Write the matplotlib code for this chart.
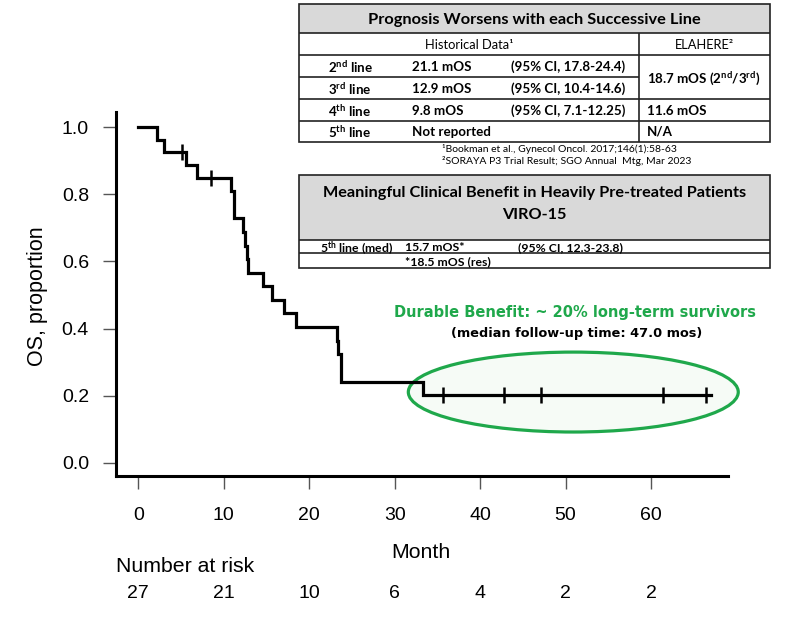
import matplotlib
matplotlib.use("Agg")
import matplotlib.pyplot as plt
from matplotlib.patches import Ellipse, Rectangle
from matplotlib.transforms import blended_transform_factory

# ---------------- data ----------------
step_times = [0, 2.2, 3.0, 5.6, 6.9, 10.9, 11.2, 12.3, 12.5, 12.7, 12.9,
              14.6, 15.7, 17.0, 18.5, 23.2, 23.4, 23.7, 33.3, 67.0]
step_surv = [1.0, 0.963, 0.926, 0.887, 0.849, 0.809, 0.728, 0.688, 0.647,
             0.607, 0.566, 0.526, 0.485, 0.445, 0.404, 0.364, 0.323, 0.242,
             0.202, 0.202]
censor_times = [5.1, 8.5, 35.7, 42.8, 47.1, 61.4, 66.4]
censor_surv = [0.926, 0.849, 0.202, 0.202, 0.202, 0.202, 0.202]

x_ticks = [0, 10, 20, 30, 40, 50, 60]
y_ticks = [0.0, 0.2, 0.4, 0.6, 0.8, 1.0]
at_risk = [27, 21, 10, 6, 4, 2, 2]

t1_title = "Prognosis Worsens with each Successive Line"
t1_hist_head = "Historical Data\u00b9"
t1_ela_head = "ELAHERE\u00b2"
t1_lines = ["2$^{nd}$ line", "3$^{rd}$ line", "4$^{th}$ line", "5$^{th}$ line"]
t1_mos = ["21.1 mOS", "12.9 mOS", "9.8 mOS", "Not reported"]
t1_ci = ["(95% CI, 17.8-24.4)", "(95% CI, 10.4-14.6)", "(95% CI, 7.1-12.25)", ""]
t1_ela = ["18.7 mOS (2$^{nd}$/3$^{rd}$)", "11.6 mOS", "N/A"]
t1_notes = ["\u00b9Bookman et al., Gynecol Oncol. 2017;146(1):58-63",
            "\u00b2SORAYA P3 Trial Result; SGO Annual  Mtg, Mar 2023"]

t2_title = ["Meaningful Clinical Benefit in Heavily Pre-treated Patients", "VIRO-15"]
t2_row1 = ["5$^{th}$ line (med)", "15.7 mOS*", "(95% CI, 12.3-23.8)"]
t2_row2 = "*18.5 mOS (res)"

green_text = "Durable Benefit: ~ 20% long-term survivors"
followup_text = "(median follow-up time: 47.0 mos)"

# ---------------- style ----------------
plt.rcParams['font.family'] = ['Liberation Sans', 'DejaVu Sans']
plt.rcParams['mathtext.default'] = 'regular'

W, H = 800, 618
fig = plt.figure(figsize=(8, 6.18), dpi=100)
ax = fig.add_axes([116 / W, 1 - 476 / H, (728 - 116) / W, (476 - 112) / H])

ax.step(step_times, step_surv, where='post', color='black', lw=2.3,
        zorder=3, solid_joinstyle='miter')
ax.plot(censor_times, censor_surv, ls='none', marker='|', ms=12, mew=1.8,
        color='black', zorder=4)

GREEN = '#1fa84b'
ax.add_patch(Ellipse((50.9, 0.211), 38.6, 0.238, fc='#f6fbf6', ec=GREEN,
                     lw=2.3, zorder=1, clip_on=False))

ax.set_xlim(-2.6, 69)
ax.set_ylim(-0.039, 1.045)
for s in ['top', 'right']:
    ax.spines[s].set_visible(False)
for s in ['left', 'bottom']:
    ax.spines[s].set_linewidth(2.2)
ax.set_xticks(x_ticks)
ax.set_yticks(y_ticks)
ax.set_yticklabels([f"{v:.1f}" for v in y_ticks])
ax.tick_params(axis='x', length=9.5, width=1.0, color='#555555', pad=13,
               labelsize=14)
ax.tick_params(axis='y', length=9.5, width=1.0, color='#555555', pad=10,
               labelsize=14)

fig.text(37 / W, 1 - 296 / H, "OS, proportion", rotation=90, ha='center',
         va='center', fontsize=15.5)
fig.text(421 / W, 1 - 553 / H, "Month", ha='center', va='center', fontsize=15.3)
fig.text(185 / W, 1 - 567 / H, "Number at risk", ha='center', va='center',
         fontsize=15.3)
tr = blended_transform_factory(ax.transData, fig.transFigure)
for t, n in zip(x_ticks, at_risk):
    ax.text(t, 1 - 593 / H, str(n), transform=tr, ha='center', va='center',
            fontsize=14)

# ---------------- overlay (tables & annotations) ----------------
ov = fig.add_axes([0, 0, 1, 1])
ov.set_xlim(0, W)
ov.set_ylim(H, 0)
ov.axis('off')

TF = 'Lato'
LC = '#222222'
LW = 1.2


def hline(x0, x1, y):
    ov.plot([x0, x1], [y, y], color=LC, lw=LW, solid_capstyle='butt')


def vline(x, y0, y1):
    ov.plot([x, x], [y0, y1], color=LC, lw=LW, solid_capstyle='butt')


def btext(x, yc, s, size, **kw):
    # place text by its baseline so superscripts do not shift it
    y = yc + 0.36 * size * 100 / 72
    if '$' in s:
        y += 0.2 * size
    ov.text(x, y, s, family=TF, fontsize=size, va='baseline', **kw)


# table 1
x0, x1, xd = 299, 770, 639
ys = [4, 33, 55, 77, 99, 121, 142]
ov.add_patch(Rectangle((x0, ys[0]), x1 - x0, ys[1] - ys[0], fc='#d9d9d9',
                       ec='none'))
ov.add_patch(Rectangle((x0, ys[0]), x1 - x0, ys[-1] - ys[0], fc='none',
                       ec=LC, lw=LW))
hline(x0, x1, ys[1])
hline(x0, x1, ys[2])
hline(x0, xd, ys[3])
hline(x0, x1, ys[4])
hline(x0, x1, ys[5])
vline(xd, ys[1], ys[-1])

btext((x0 + x1) / 2, 18, t1_title, 11.8, weight='bold', ha='center')
btext((x0 + xd) / 2, 44, t1_hist_head, 9.3, ha='center')
btext((xd + x1) / 2, 44, t1_ela_head, 9.3, ha='center')
row_y = [66, 88, 110, 131]
for i, y in enumerate(row_y):
    btext(328, y, t1_lines[i], 9.6, weight='bold')
    btext(412, y, t1_mos[i], 9.6, weight='bold')
    btext(511, y, t1_ci[i], 9.6, weight='bold')
ela_y = [77, 110, 131]
for y, s in zip(ela_y, t1_ela):
    btext(647, y, s, 9.6, weight='bold')
for y, s in zip([148, 160.5], t1_notes):
    btext(442, y, s, 7.5)

# table 2
y2 = [175, 240, 253, 268]
ov.add_patch(Rectangle((x0, y2[0]), x1 - x0, y2[1] - y2[0], fc='#d9d9d9',
                       ec='none'))
ov.add_patch(Rectangle((x0, y2[0]), x1 - x0, y2[-1] - y2[0], fc='none',
                       ec=LC, lw=LW))
hline(x0, x1, y2[1])
hline(x0, x1, y2[2])
btext((x0 + x1) / 2, 191, t2_title[0], 11.7, weight='bold', ha='center')
btext((x0 + x1) / 2, 213, t2_title[1], 11.7, weight='bold', ha='center')
for x, s in zip([320, 405, 518], t2_row1):
    btext(x, 246.5, s, 8.8, weight='bold')
btext(405, 261, t2_row2, 8.8, weight='bold')

# annotation
ov.text(575, 313, green_text, family='DejaVu Sans', weight='bold',
        fontsize=10.5, color=GREEN, ha='center', va='center')
ov.text(577, 333, followup_text, family='DejaVu Sans', weight='bold',
        fontsize=9.3, color='black', ha='center', va='center')

fig.savefig("out.png", dpi=100)
